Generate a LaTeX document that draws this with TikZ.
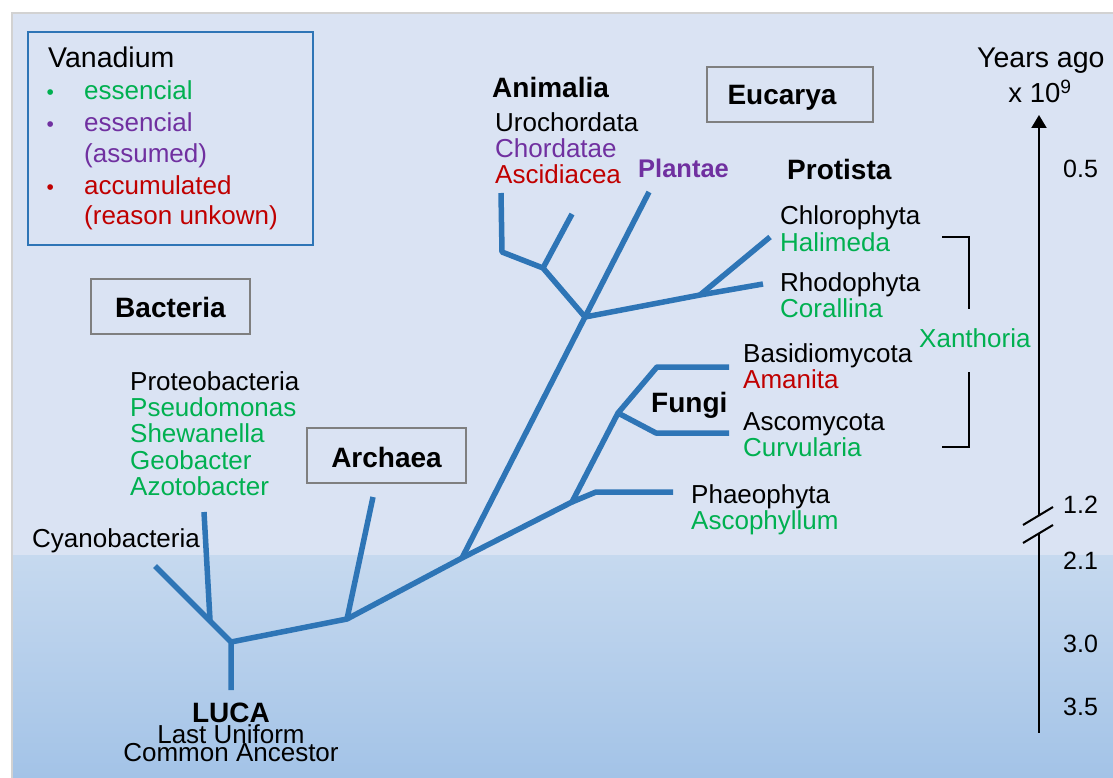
\documentclass[tikz,border=0pt]{standalone}
\usepackage{fontspec}
\setmainfont{Liberation Sans}
\usetikzlibrary{arrows.meta}
\definecolor{bgtop}{HTML}{DAE3F3}
\definecolor{bglow1}{HTML}{C6D9EF}
\definecolor{bglow2}{HTML}{A3C3E7}
\definecolor{treeblue}{HTML}{2E75B6}
\definecolor{vgreen}{HTML}{00B050}
\definecolor{vpurple}{HTML}{7030A0}
\definecolor{vred}{HTML}{C00000}
\definecolor{boxgray}{HTML}{7F7F7F}
\tikzset{
  txt/.style={font=\fontsize{26}{26}\selectfont, inner sep=0pt, anchor=base west},
  ctxt/.style={font=\fontsize{26}{26}\selectfont, inner sep=0pt, anchor=base},
  btxt/.style={font=\fontsize{28}{28}\selectfont\bfseries, inner sep=0pt, anchor=base west},
  cbtxt/.style={font=\fontsize{28}{28}\selectfont\bfseries, inner sep=0pt, anchor=base},
  tick/.style={font=\fontsize{25}{25}\selectfont, inner sep=0pt, anchor=base west},
  bul/.style={font=\fontsize{21}{21}\selectfont, inner sep=0pt, anchor=base west},
  dombox/.style={draw=boxgray, line width=1.8pt, inner sep=0pt},
  branch/.style={draw=treeblue, line width=5.5pt, line join=round},
  blackline/.style={draw=black, line width=2pt},
}
\begin{document}
\begin{tikzpicture}[x=1pt,y=-1pt]
\useasboundingbox (0,0) rectangle (1113,778);
\fill[white] (0,0) rectangle (1113,778);
% background
\fill[gray!35] (11,12) rectangle (1113,778);
\fill[bgtop] (13,14) rectangle (1113,555);
\shade[top color=bglow1, bottom color=bglow2] (13,555) rectangle (1113,778);

% legend
\node[draw=treeblue, line width=1.5pt, minimum width=285pt, minimum height=213pt, inner sep=0pt] (legend) at (170.5,138.5) {};
\node[txt, font=\fontsize{28.5}{28.5}\selectfont] (van) at (48,68) {Vanadium};
\node[bul, text=vgreen] (b1g) at (46.5,100) {•};
\node[txt, text=vgreen] (l1) at (84,100) {essencial};
\node[bul, text=vpurple] (b2p) at (46.5,132) {•};
\node[txt, text=vpurple] (l2) at (84,132) {essencial};
\node[txt, text=vpurple] (l2b) at (84,163) {(assumed)};
\node[bul, text=vred] (b3r) at (46.5,195) {•};
\node[txt, text=vred] (l3) at (84,195) {accumulated};
\node[txt, text=vred] (l3b) at (84,225) {(reason unkown)};

% domain boxes
\node[dombox, minimum width=159pt, minimum height=55pt] (bactbox) at (170.5,306.5) {};
\node[cbtxt] (bact) at (170.5,317) {Bacteria};
\node[dombox, minimum width=159pt, minimum height=55pt] (archbox) at (386.5,455.5) {};
\node[cbtxt] (arch) at (386.5,467) {Archaea};
\node[dombox, minimum width=166pt, minimum height=55pt] (eucbox) at (790,94.5) {};
\node[cbtxt] (euc) at (782,105) {Eucarya};

% labels
\node[txt] (proteo) at (130,390) {Proteobacteria};
\node[txt, text=vgreen] (pseudo) at (130,416) {Pseudomonas};
\node[txt, text=vgreen] (shew) at (130,442) {Shewanella};
\node[txt, text=vgreen] (geo) at (130,469) {Geobacter};
\node[txt, text=vgreen] (azo) at (130,495) {Azotobacter};
\node[txt] (cyano) at (32,547) {Cyanobacteria};

\node[btxt] (anim) at (492,98) {Animalia};
\node[txt] (uro) at (495,132) {Urochordata};
\node[txt, text=vpurple] (chord) at (495,158) {Chordatae};
\node[txt, text=vred] (ascid) at (495,184) {Ascidiacea};
\node[btxt, font=\fontsize{25.5}{25.5}\selectfont\bfseries, text=vpurple] (plant) at (638,178) {Plantae};
\node[btxt] (prot) at (787,179) {Protista};
\node[txt] (chloro) at (780,225) {Chlorophyta};
\node[txt, text=vgreen] (hali) at (780,251) {Halimeda};
\node[txt] (rhodo) at (780,291) {Rhodophyta};
\node[txt, text=vgreen] (coral) at (780,317) {Corallina};
\node[txt, text=vgreen] (xan) at (919,347) {Xanthoria};
\node[txt] (basid) at (743,362) {Basidiomycota};
\node[txt, text=vred] (aman) at (743,388) {Amanita};
\node[btxt] (fungi) at (651,412) {Fungi};
\node[txt] (asco) at (743,430) {Ascomycota};
\node[txt, text=vgreen] (curv) at (743,456) {Curvularia};
\node[txt] (phaeo) at (691,503) {Phaeophyta};
\node[txt, text=vgreen] (ascoph) at (691,529) {Ascophyllum};

\node[cbtxt] (luca) at (231,722) {LUCA};
\node[ctxt] (last) at (231,743) {Last Uniform};
\node[ctxt] (common) at (231,761) {Common Ancestor};

% tree coordinates
\coordinate (root) at (231,690);
\coordinate (n1) at (231,642);
\coordinate (tcy) at (155,566);
\coordinate (np) at (210,620);
\coordinate (tpr) at (204,512);
\coordinate (na) at (347,619);
\coordinate (tar) at (373,497);
\coordinate (ne) at (462,558);
\coordinate (ne2) at (585,317);
\coordinate (tpl) at (649,192);
\coordinate (nan) at (543,268);
\coordinate (nan1) at (502,252);
\coordinate (tan1) at (501,193);
\coordinate (tan2) at (572,214);
\coordinate (npr) at (700,295);
\coordinate (trh) at (763,284);
\coordinate (tch) at (770,237);
\coordinate (nph) at (572,502);
\coordinate (nph1) at (596,492);
\coordinate (tph) at (673,492);
\coordinate (nfu) at (618,413);
\coordinate (nfu1) at (657,367);
\coordinate (tba) at (729,367);
\coordinate (nfu2) at (656,433);
\coordinate (tas) at (729,433);

\draw[branch] (root) -- (n1) -- (tcy);
\draw[branch] (np) -- (tpr);
\draw[branch] (n1) -- (na) -- (ne) -- (ne2) -- (tpl);
\draw[branch] (na) -- (tar);
\draw[branch] (ne2) -- (nan) -- (nan1) -- (tan1);
\draw[branch] (nan) -- (tan2);
\draw[branch] (ne2) -- (npr) -- (trh);
\draw[branch] (npr) -- (tch);
\draw[branch] (ne) -- (nph) -- (nfu) -- (nfu1) -- (tba);
\draw[branch] (nfu) -- (nfu2) -- (tas);
\draw[branch] (nph) -- (nph1) -- (tph);

% brackets
\coordinate (bk1a) at (942,237);
\coordinate (bk1b) at (969,309);
\coordinate (bk2a) at (969,372);
\coordinate (bk2b) at (942,447);
\draw[blackline] (bk1a) -| (bk1b);
\draw[blackline] (bk2a) |- (bk2b);

% time axis
\coordinate (axtop) at (1039,115);
\coordinate (axb1) at (1039,515);
\coordinate (axb2) at (1039,533);
\coordinate (axbot) at (1039,733);
\draw[blackline, -{Triangle[length=13pt,width=15pt]}] (axb1) -- (axtop);
\draw[blackline] (axb2) -- (axbot);
\coordinate (s1a) at (1023,525);
\coordinate (s1b) at (1053,507);
\coordinate (s2a) at (1023,543);
\coordinate (s2b) at (1053,525);
\draw[blackline] (s1a) -- (s1b);
\draw[blackline] (s2a) -- (s2b);

\node[txt, font=\fontsize{28.5}{28.5}\selectfont] (years) at (977,68) {Years ago};
\node[ctxt, font=\fontsize{27.5}{27.5}\selectfont] (x109) at (1040,103) {x 10\textsuperscript{9}};
\node[tick] (t05) at (1063,178) {0.5};
\node[tick] (t12) at (1063,513) {1.2};
\node[tick] (t21) at (1063,569) {2.1};
\node[tick] (t30) at (1063,652) {3.0};
\node[tick] (t35) at (1063,715) {3.5};
\end{tikzpicture}
\end{document}
